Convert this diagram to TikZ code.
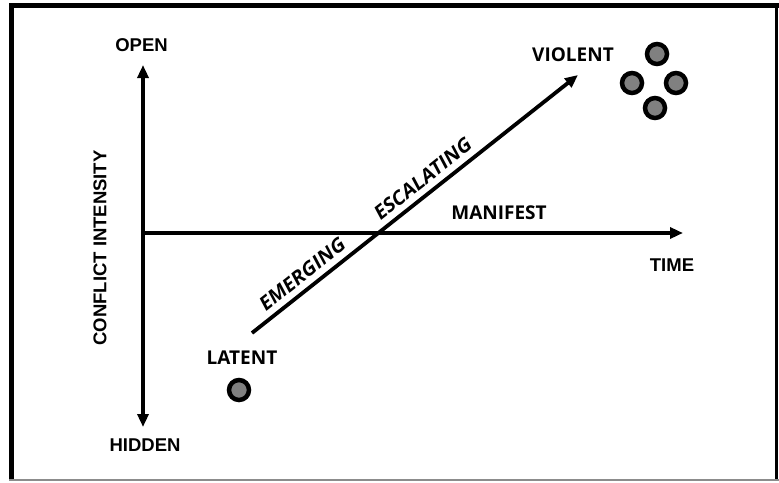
\documentclass[tikz,border=0pt]{standalone}
\usepackage{fontspec}
\setmainfont{Liberation Sans}
\newfontfamily\osfont{Open Sans}
\newfontfamily\osslant[FakeSlant=0.18,BoldFeatures={FakeSlant=0.18}]{Open Sans}
\usetikzlibrary{arrows.meta}
\tikzset{
  axisline/.style={line width=3.8pt, -{Triangle[length=13pt,width=11pt]}},
  dblaxis/.style={line width=3.8pt, {Triangle[length=13pt,width=11pt]}-{Triangle[length=13pt,width=11pt]}},
  arial/.style={font=\fontsize{18.5}{20}\selectfont\bfseries, inner sep=0pt},
  oslabel/.style={font=\osfont\fontsize{19}{21}\selectfont\bfseries, inner sep=0pt},
  oitalic/.style={font=\osslant\fontsize{19.5}{23}\selectfont\bfseries, inner sep=0pt},
  dot/.style={circle, draw=black, line width=4.5pt, fill=black!50, minimum size=20pt, inner sep=0pt}
}
\begin{document}
\begin{tikzpicture}[x=1pt,y=-1pt]
\useasboundingbox (0,0) rectangle (779,482);
% frame
\draw[line width=5pt] (11.5,3) -- (11.5,481);
\draw[line width=5pt] (9,5.5) -- (779,5.5);
\draw[line width=3pt] (776,4) -- (776,481);
\draw[line width=2pt, black!45] (9,479.5) -- (779,479.5);
% coordinates
\coordinate (vtop) at (143,65);
\coordinate (vbot) at (143,427);
\coordinate (hstart) at (143,233);
\coordinate (hend) at (683,233);
\coordinate (dstart) at (252,333);
\coordinate (dend) at (578,75);
% axes
\draw[dblaxis] (vbot) -- (vtop);
\draw[axisline] (hstart) -- (hend);
\draw[axisline] (dstart) -- (dend)
  node[pos=0.18, sloped, oitalic, yshift=15pt] (emerg) {EMERGING}
  node[pos=0.55, sloped, oitalic, yshift=15pt] (escal) {ESCALATING};
% labels
\node[arial] (open) at (141.5,45) {OPEN};
\node[arial] (hidden) at (145,445) {HIDDEN};
\node[arial] (time) at (672,265) {TIME};
\node[arial, rotate=90] (ci) at (100,248) {CONFLICT INTENSITY};
\node[oslabel] (violent) at (573,55) {VIOLENT};
\node[oslabel] (latent) at (242,358) {LATENT};
\node[oslabel] (manifest) at (499,213) {MANIFEST};
% dots
\node[dot] (d0) at (239,390) {};
\node[dot] (d1) at (657,54) {};
\node[dot] (d2) at (632,83) {};
\node[dot] (d3) at (676,83) {};
\node[dot] (d4) at (655,108) {};
\end{tikzpicture}
\end{document}
